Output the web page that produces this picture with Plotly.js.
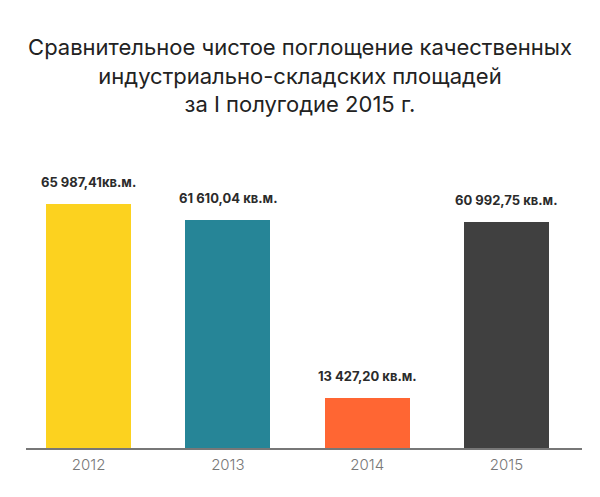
<!DOCTYPE html>
<html>
<head>
<meta charset="utf-8">
<script src="https://cdn.plot.ly/plotly-3.0.1.min.js"></script>
<style>html,body{margin:0;padding:0;background:#fff;}#chart{width:600px;height:497px;}</style>
</head>
<body>
<div id="chart"></div>
<script>
const years = ['2012', '2013', '2014', '2015'];
const values = [65987.41, 61610.04, 13427.20, 60992.75];
const valueLabels = ['65 987,41кв.м.', '61 610,04 кв.м.', '13 427,20 кв.м.', '60 992,75 кв.м.'];
const barColors = ['#FCD21F', '#268597', '#FF6633', '#404040'];

const plotTop = 150, base = 448;
const pxPerThousand = 3.70;
const ymax = (base - plotTop) / pxPerThousand * 1000;

const trace = {
  type: 'bar',
  x: years,
  y: values,
  marker: {color: barColors},
  width: 0.61,
  hoverinfo: 'none'
};

const annotations = years.map((yr, i) => ({
  x: i, y: values[i], xref: 'x', yref: 'y',
  text: '<b>' + valueLabels[i] + '</b>',
  showarrow: false, yanchor: 'bottom', yshift: 12,
  font: {family: 'Inter, Liberation Sans, Arial, sans-serif', size: 13, color: '#2b2b2b'}
}));

const layout = {
  width: 600, height: 497,
  paper_bgcolor: '#fff', plot_bgcolor: '#fff',
  margin: {l: 26, r: 18, t: plotTop, b: 497 - base},
  title: {
    text: 'Сравнительное чистое поглощение качественных<br>индустриально-складских площадей<br>за I полугодие 2015 г.',
    x: 0.5, xanchor: 'center', y: 1 - 55/497, yanchor: 'top',
    font: {family: 'Inter, Liberation Sans, Arial, sans-serif', size: 22, color: '#222'}
  },
  xaxis: {
    type: 'category', range: [-0.449, 3.542],
    showline: true, linecolor: '#777', linewidth: 1.5,
    ticks: '', showgrid: false, zeroline: false, ticklabelstandoff: 2,
    tickfont: {family: 'Inter, Liberation Sans, sans-serif', size: 15, color: '#777', weight: 300},
    fixedrange: true
  },
  yaxis: {
    range: [0, ymax], visible: false, showgrid: false, zeroline: false, fixedrange: true
  },
  annotations: annotations,
  showlegend: false,
  bargap: 0
};

Plotly.newPlot('chart', [trace], layout, {displayModeBar: false, staticPlot: true});
</script>
</body>
</html>
